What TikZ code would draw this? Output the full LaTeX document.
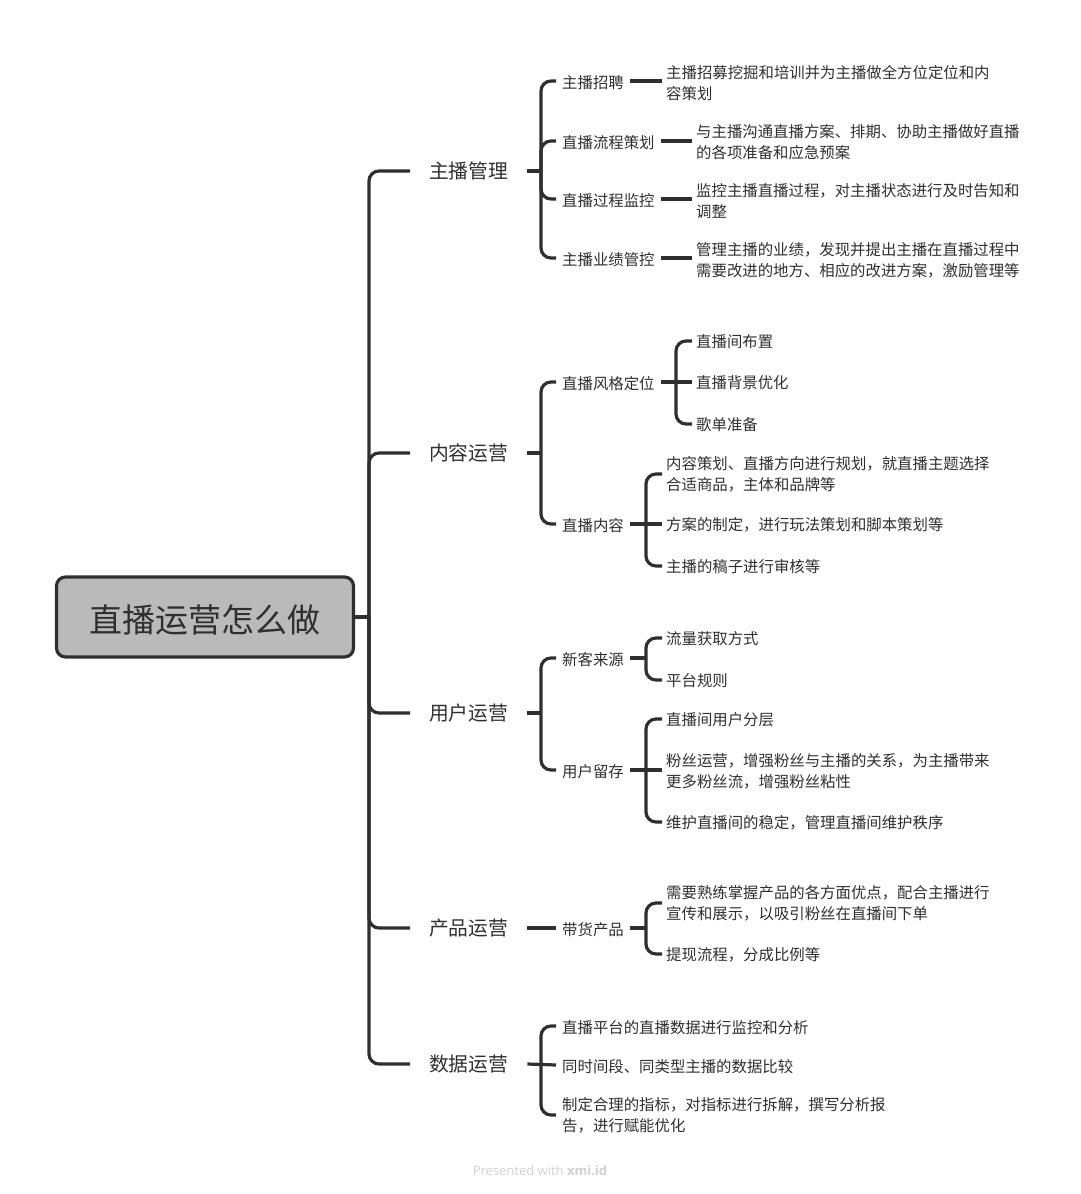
\documentclass[tikz,border=0pt]{standalone}
\usepackage{fontspec}
\setmainfont{Noto Sans CJK SC}
\newfontfamily\markfont{Open Sans}
\definecolor{ink}{HTML}{2F2F2F}
\tikzset{
  rootbox/.style={draw=ink,line width=3.2pt,fill=black!27,rounded corners=9pt,minimum width=297pt,minimum height=80pt,inner sep=0pt,text=ink,font=\fontsize{33}{40}\selectfont,execute at begin node={\rule{0pt}{33pt}}},
  topicbox/.style={anchor=west,inner xsep=19pt,inner ysep=2pt,text=ink,font=\fontsize{19.75}{24}\selectfont},
  subbox/.style={anchor=west,inner xsep=6pt,inner ysep=0pt,text=ink,font=\fontsize{15.4}{21}\selectfont,execute at begin node={\rule{0pt}{15.6pt}}},
  leafbox/.style={anchor=west,align=left,inner xsep=4pt,inner ysep=0pt,text=ink,font=\fontsize{15.4}{21}\selectfont,execute at begin node={\rule{0pt}{14.5pt}}},
  conn/.style={draw=ink,line width=3.2pt},
  brace/.style={conn,rounded corners=10pt}
}
\begin{document}
\begin{tikzpicture}[x=1pt,y=-1pt]
\useasboundingbox (0,0) rectangle (1080,1194);
\node[rootbox] (root) at (205,617) {直播运营怎么做};
\coordinate (trunk) at (369,617);
% topics
\node[topicbox] (zhubo) at (410,171) {主播管理};
\node[topicbox] (neirong) at (410,453) {内容运营};
\node[topicbox] (yonghu) at (410,713) {用户运营};
\node[topicbox] (chanpin) at (410,928) {产品运营};
\node[topicbox] (shuju) at (410,1064) {数据运营};
\draw[conn] (root.east) -- (trunk);
\draw[brace] (zhubo.west) -| (trunk);
\draw[brace] (neirong.west) -| (trunk);
\draw[brace] (yonghu.west) -| (trunk);
\draw[brace] (chanpin.west) -| (trunk);
\draw[brace] (shuju.west) -| (trunk);
% zhubo
\coordinate (spineA) at (541,171);
\node[subbox] (zhaopin) at (556,81) {主播招聘};
\node[subbox] (liucheng) at (556,141) {直播流程策划};
\node[subbox] (guocheng) at (556,199) {直播过程监控};
\node[subbox] (yeji) at (556,258) {主播业绩管控};
\node[leafbox] (zhaopinA) at (662,83) {主播招募挖掘和培训并为主播做全方位定位和内\\容策划};
\node[leafbox] (liuchengA) at (692,142) {与主播沟通直播方案、排期、协助主播做好直播\\的各项准备和应急预案};
\node[leafbox] (guochengA) at (692,201) {监控主播直播过程，对主播状态进行及时告知和\\调整};
\node[leafbox] (yejiA) at (692,260) {管理主播的业绩，发现并提出主播在直播过程中\\需要改进的地方、相应的改进方案，激励管理等};
\draw[conn] (zhubo.east) -- (spineA);
\draw[brace] (zhaopin.west) -| (spineA);
\draw[brace] (liucheng.west) -| (spineA);
\draw[brace] (guocheng.west) -| (spineA);
\draw[brace] (yeji.west) -| (spineA);
\draw[conn] (zhaopin.east) -- (zhaopin.east -| zhaopinA.west);
\draw[conn] (liucheng.east) -- (liucheng.east -| liuchengA.west);
\draw[conn] (guocheng.east) -- (guocheng.east -| guochengA.west);
\draw[conn] (yeji.east) -- (yeji.east -| yejiA.west);
% neirong
\coordinate (spineB) at (541,453);
\node[subbox] (fengge) at (556,382) {直播风格定位};
\node[subbox] (zhibo) at (556,524) {直播内容};
\coordinate (spineBa) at (676,382);
\node[leafbox] (buzhi) at (692,341) {直播间布置};
\node[leafbox] (beijing) at (692,382) {直播背景优化};
\node[leafbox] (gedan) at (692,424) {歌单准备};
\coordinate (spineBb) at (646,524);
\node[leafbox] (cehua) at (662,474) {内容策划、直播方向进行规划，就直播主题选择\\合适商品，主体和品牌等};
\node[leafbox] (fangan) at (662,524) {方案的制定，进行玩法策划和脚本策划等};
\node[leafbox] (gaozi) at (662,566) {主播的稿子进行审核等};
\draw[conn] (neirong.east) -- (spineB);
\draw[brace] (fengge.west) -| (spineB);
\draw[brace] (zhibo.west) -| (spineB);
\draw[conn] (fengge.east) -- (beijing.west);
\draw[brace] (buzhi.west) -| (spineBa);
\draw[brace] (gedan.west) -| (spineBa);
\draw[conn] (zhibo.east) -- (fangan.west);
\draw[brace] (cehua.west) -| (spineBb);
\draw[brace] (gaozi.west) -| (spineBb);
% yonghu
\coordinate (spineC) at (541,713);
\node[subbox] (xinke) at (556,658) {新客来源};
\node[subbox] (liucun) at (556,770) {用户留存};
\coordinate (spineCa) at (646,658);
\node[leafbox] (liuliang) at (662,638) {流量获取方式};
\node[leafbox] (guize) at (662,680) {平台规则};
\coordinate (spineCb) at (646,770);
\node[leafbox] (fenceng) at (662,719) {直播间用户分层};
\node[leafbox] (fensi) at (662,771) {粉丝运营，增强粉丝与主播的关系，为主播带来\\更多粉丝流，增强粉丝粘性};
\node[leafbox] (weihu) at (662,822) {维护直播间的稳定，管理直播间维护秩序};
\draw[conn] (yonghu.east) -- (spineC);
\draw[brace] (xinke.west) -| (spineC);
\draw[brace] (liucun.west) -| (spineC);
\draw[conn] (xinke.east) -- (spineCa);
\draw[brace] (liuliang.west) -| (spineCa);
\draw[brace] (guize.west) -| (spineCa);
\draw[conn] (liucun.east) -- (fensi.west |- liucun.east);
\draw[brace] (fenceng.west) -| (spineCb);
\draw[brace] (weihu.west) -| (spineCb);
% chanpin
\node[subbox] (daihuo) at (556,928) {带货产品};
\coordinate (spineD) at (646,928);
\node[leafbox] (shulian) at (662,903) {需要熟练掌握产品的各方面优点，配合主播进行\\宣传和展示，以吸引粉丝在直播间下单};
\node[leafbox] (tixian) at (662,954) {提现流程，分成比例等};
\draw[conn] (chanpin.east) -- (daihuo.west);
\draw[conn] (daihuo.east) -- (spineD);
\draw[brace] (shulian.west) -| (spineD);
\draw[brace] (tixian.west) -| (spineD);
% shuju
\coordinate (spineE) at (541,1064);
\node[subbox] (pingtai) at (556,1026) {直播平台的直播数据进行监控和分析};
\node[subbox] (tongshi) at (556,1065) {同时间段、同类型主播的数据比较};
\node[subbox,align=left] (zhiding) at (556,1115) {制定合理的指标，对指标进行拆解，撰写分析报\\告，进行赋能优化};
\draw[conn] (shuju.east) -- (tongshi.west);
\draw[brace] (pingtai.west) -| (spineE);
\draw[brace] (zhiding.west) -| (spineE);
\node[text=black!18,font=\markfont\fontsize{13}{16}\selectfont,inner sep=0pt] (mark) at (540,1171) {Presented with \textbf{xmi.id}};
\end{tikzpicture}
\end{document}
